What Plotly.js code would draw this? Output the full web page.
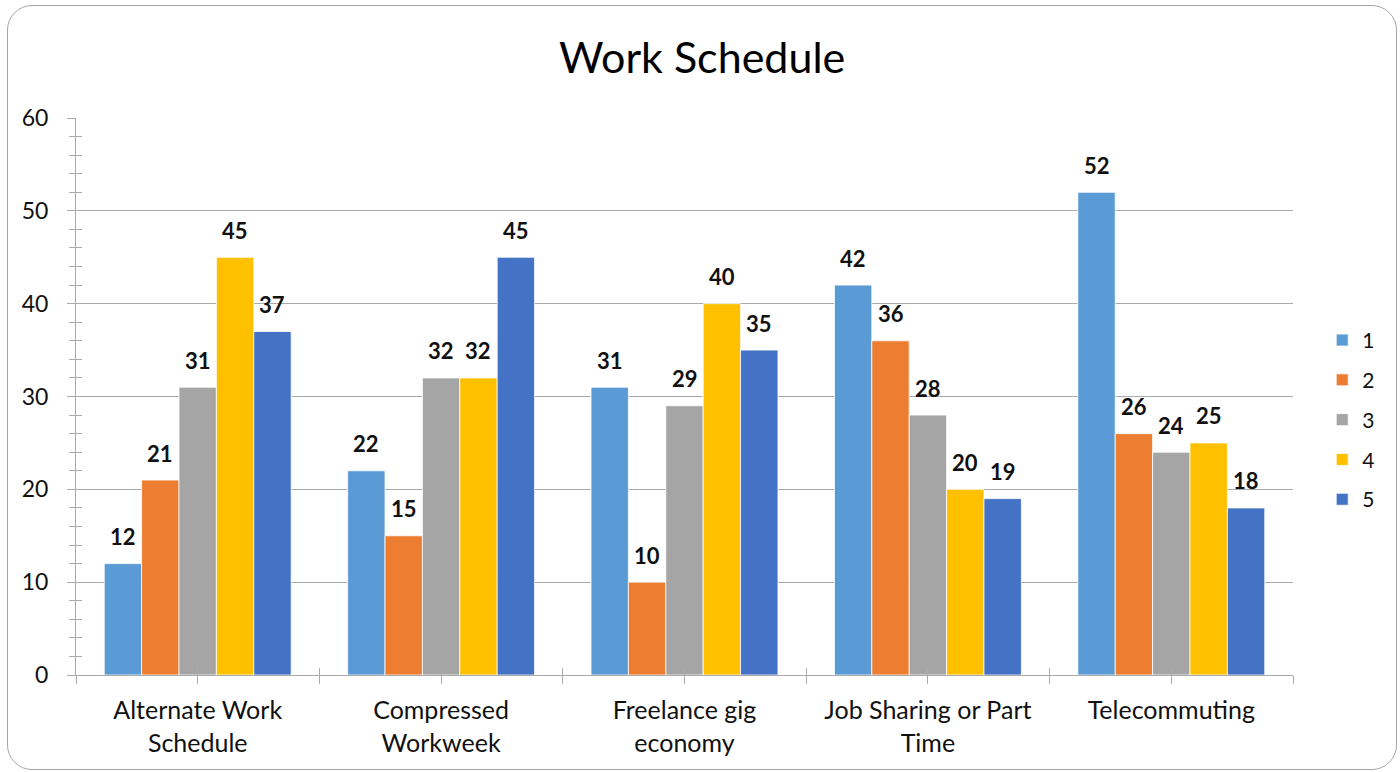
<!DOCTYPE html>
<html>
<head>
<meta charset="utf-8">
<script src="https://cdn.plot.ly/plotly-3.0.1.min.js"></script>
<style>
  html, body { margin: 0; padding: 0; background: #fff; }
  #wrap { position: relative; width: 1400px; height: 772px; }
  #chart { width: 1400px; height: 772px; }
  #frame { position: absolute; left: 7px; top: 5px; width: 1390px; height: 765px;
           box-sizing: border-box; border: 1.5px solid #a6a6a6; border-radius: 25px;
           pointer-events: none; }
</style>
</head>
<body>
<div id="wrap">
  <div id="chart"></div>
  <div id="frame"></div>
</div>
<script>
// ---- data ----
const categories = ["Alternate Work<br>Schedule", "Compressed<br>Workweek", "Freelance gig<br>economy", "Job Sharing or Part<br>Time", "Telecommuting"];
const seriesNames = ["1", "2", "3", "4", "5"];
const series1 = [12, 22, 31, 42, 52];
const series2 = [21, 15, 10, 36, 26];
const series3 = [31, 32, 29, 28, 24];
const series4 = [45, 32, 40, 20, 25];
const series5 = [37, 45, 35, 19, 18];
const yTickValues = [0, 10, 20, 30, 40, 50, 60];

const seriesValues = [series1, series2, series3, series4, series5];
const colors = ["#5B9BD5", "#ED7D31", "#A5A5A5", "#FFC000", "#4472C4"];
const FONT = "Lato, 'Open Sans', sans-serif";
const GRAY = "#aaaaaa";
const TEXT = "#111111";
const bargap = 0.232;

const catIndex = categories.map((_, i) => i);

// tick positions at category centers and boundaries
const xTickVals = [];
const xTickText = [];
for (let k = -1; k < 2 * categories.length; k++) {
  const v = k / 2;
  xTickVals.push(v);
  xTickText.push(Number.isInteger(v) && v >= 0 ? categories[v] : "");
}

const traces = seriesValues.map((vals, i) => ({
  type: "bar",
  name: seriesNames[i],
  x: catIndex,
  y: vals,
  legendgroup: "g" + i,
  marker: { color: colors[i], line: { color: "#ffffff", width: 0.8 } },
  hoverinfo: "x+y+name"
}));

// dummy trace for overlay axes (crossing tick marks)
traces.push({ type: "scatter", x: [null], y: [null], xaxis: "x2", yaxis: "y2",
              showlegend: false, hoverinfo: "skip" });

// data labels
const nSeries = seriesValues.length;
const barFrac = (1 - bargap) / nSeries;
const annotations = [];
seriesValues.forEach((vals, i) => {
  vals.forEach((v, j) => {
    annotations.push({
      x: catIndex[j] + (i - (nSeries - 1) / 2) * barFrac,
      y: v,
      xref: "x", yref: "y",
      text: "<b>" + v + "</b>",
      showarrow: false,
      yanchor: "middle",
      yshift: 27,
      font: { family: FONT, size: 22, color: TEXT }
    });
  });
});

const layout = {
  width: 1400, height: 772,
  margin: { l: 76, r: 107, t: 118, b: 97 },
  paper_bgcolor: "#ffffff",
  plot_bgcolor: "#ffffff",
  barmode: "group",
  bargap: bargap,
  bargroupgap: 0,
  title: {
    text: "Work Schedule",
    font: { family: FONT, size: 43, color: "#000" },
    xref: "container", x: 0.5015,
    yref: "container", y: 1 - 58 / 772, yanchor: "middle"
  },
  xaxis: {
    range: [-0.5, categories.length - 0.5],
    tickmode: "array", tickvals: xTickVals, ticktext: xTickText,
    ticks: "outside", ticklen: 8, tickcolor: GRAY, tickwidth: 1,
    ticklabelstandoff: 5,
    showline: true, linecolor: GRAY, linewidth: 1,
    showgrid: false, zeroline: false,
    tickfont: { family: FONT, size: 25, color: TEXT }
  },
  xaxis2: {
    overlaying: "x", anchor: "y",
    range: [-0.5, categories.length - 0.5],
    tickmode: "array", tickvals: xTickVals, ticktext: xTickVals.map(() => ""),
    ticks: "inside", ticklen: 7, tickcolor: GRAY, tickwidth: 1,
    showticklabels: false, showline: false, showgrid: false, zeroline: false
  },
  yaxis: {
    range: [0, 60],
    tickmode: "array", tickvals: yTickValues,
    ticks: "outside", ticklen: 8, tickcolor: GRAY, tickwidth: 1,
    ticklabelstandoff: 14,
    showline: true, linecolor: GRAY, linewidth: 1,
    showgrid: true, gridcolor: GRAY, gridwidth: 1,
    zeroline: false,
    minor: { dtick: 2, tick0: 0, ticks: "outside", ticklen: 6, tickcolor: GRAY, showgrid: false },
    tickfont: { family: FONT, size: 23, color: TEXT }
  },
  yaxis2: {
    overlaying: "y", anchor: "x", side: "left",
    range: [0, 60], tickmode: "linear", tick0: 0, dtick: 2,
    ticks: "inside", ticklen: 6, tickcolor: GRAY, tickwidth: 1,
    showticklabels: false, showline: false, showgrid: false, zeroline: false
  },
  legend: {
    x: 1.024, xanchor: "left", y: 0.458, yanchor: "middle",
    traceorder: "grouped", tracegroupgap: 9.5,
    font: { family: FONT, size: 21, color: TEXT },
    bgcolor: "rgba(0,0,0,0)"
  },
  annotations: annotations,
  showlegend: true
};

Plotly.newPlot("chart", traces, layout, { displayModeBar: false, responsive: false });
</script>
</body>
</html>
